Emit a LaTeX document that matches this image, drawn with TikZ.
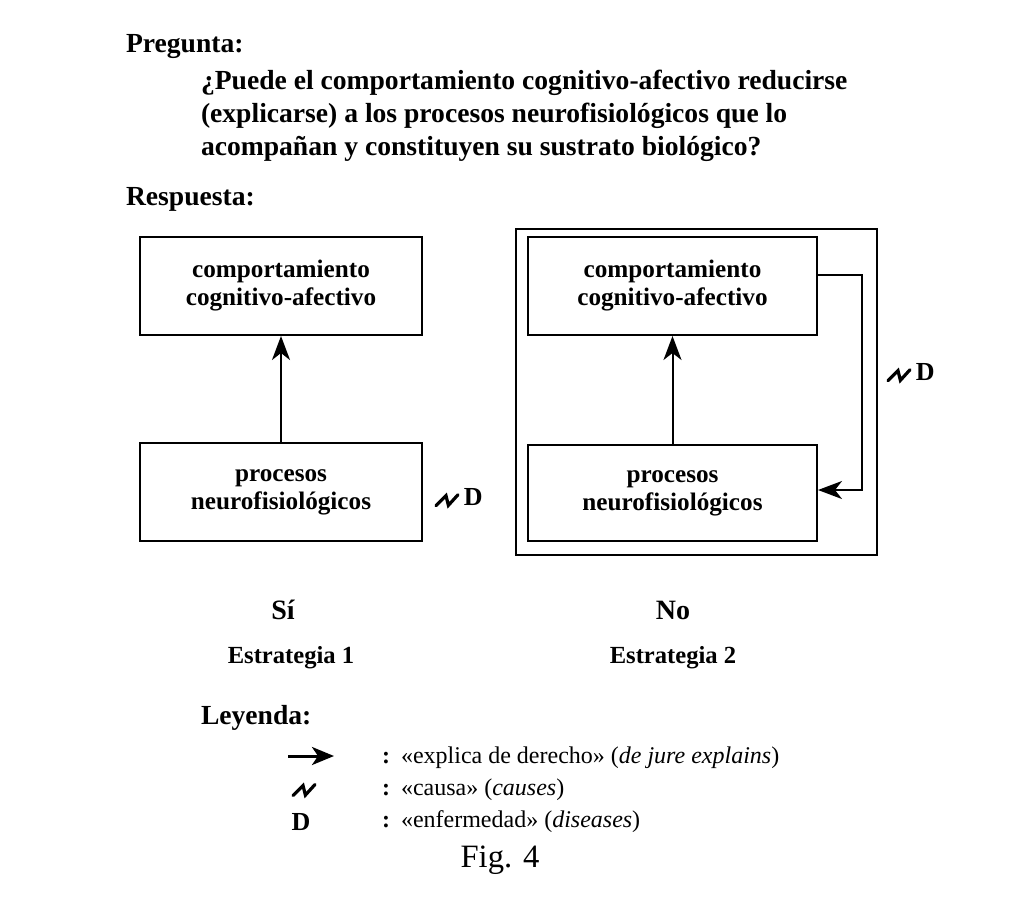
\documentclass[tikz,border=0pt]{standalone}
\usepackage{fontspec}
\setmainfont{Liberation Serif}
\usetikzlibrary{arrows.meta}

\newcommand{\causa}{\tikz[baseline=0pt, line width=1.6pt, line cap=round, line join=miter]\draw (0pt,0pt) -- (5pt,5pt) -- (6.2pt,0.2pt) -- (11pt,5.5pt);}

\tikzset{
  caja/.style={draw, line width=1pt, minimum width=141pt, minimum height=49pt, align=center, inner sep=0pt,
    font=\bfseries\fontsize{12.6}{14}\selectfont},
  titulo/.style={anchor=west, inner sep=0pt, font=\bfseries\fontsize{13.8}{16.5}\selectfont},
  leyenda/.style={anchor=west, font=\fontsize{12}{14}\selectfont, inner sep=0pt},
}

\begin{document}
\begin{tikzpicture}[x=0.5pt, y=-0.5pt, line width=1pt,
  >={Stealth[length=12pt, width=9pt, inset=3.5pt]}]
\useasboundingbox (0,0) rectangle (1024,896);

% pregunta
\node[titulo] (preg) at (125,47) {Pregunta:};
\node[titulo, align=left] (texto) at (200,116) {¿Puede el comportamiento cognitivo-afectivo reducirse\\(explicarse) a los procesos neurofisiológicos que lo\\acompañan y constituyen su sustrato biológico?};
\node[titulo] (resp) at (125,199) {Respuesta:};

% estrategia 1
\node[caja] (comp1) at (281,286) {comportamiento\\cognitivo-afectivo};
\node[caja] (proc1) at (281,492) {procesos\\neurofisiológicos};
\draw[->] (proc1) -- (comp1);
\node[font=\bfseries\fontsize{13}{14}\selectfont, anchor=west, inner sep=0pt] (causa1) at (434,498) {\causa\,D};

% estrategia 2
\node[draw, minimum width=180.5pt, minimum height=163pt] (marco) at (696.5,392) {};
\node[caja, minimum width=144.5pt] (comp2) at (672.5,286) {comportamiento\\cognitivo-afectivo};
\node[caja, minimum width=144.5pt, minimum height=48pt] (proc2) at (672.5,493) {procesos\\neurofisiológicos};
\draw[->] (proc2) -- (comp2);
\draw[->] ([yshift=5.5pt]comp2.east) -- ++(22pt,0) |- ([yshift=1.5pt]proc2.east);
\node[font=\bfseries\fontsize{13}{14}\selectfont, anchor=west, inner sep=0pt] (causa2) at (886,373) {\causa\,D};

% respuestas
\node[font=\bfseries\fontsize{14}{16}\selectfont] (si) at (283,610) {Sí};
\node[font=\bfseries\fontsize{14}{16}\selectfont] (no) at (673,610) {No};
\node[font=\bfseries\fontsize{12.3}{14}\selectfont] (est1) at (291,658) {Estrategia 1};
\node[font=\bfseries\fontsize{12.3}{14}\selectfont] (est2) at (673,658) {Estrategia 2};

% leyenda
\node[titulo] (ley) at (200,718) {Leyenda:};
\coordinate (fa) at (288,756);
\coordinate (fb) at (334,756);
\draw[->, line width=1.5pt, >={Stealth[length=11pt, width=9pt, inset=3pt]}] (fa) -- (fb);
\node[leyenda] (dp1) at (381,758) {\textbf{:}};
\node[leyenda] (l1) at (400,758) {«explica de derecho» (\textit{de jure explains})};
\node[anchor=west, inner sep=0pt] (sim2) at (291,790) {\causa};
\node[leyenda] (dp2) at (381,790) {\textbf{:}};
\node[leyenda] (l2) at (400,790) {«causa» (\textit{causes})};
\node[font=\bfseries\fontsize{13}{14}\selectfont] (sim3) at (301,822) {D};
\node[leyenda] (dp3) at (381,822) {\textbf{:}};
\node[leyenda] (l3) at (400,822) {«enfermedad» (\textit{diseases})};

\node[font=\fontsize{16.3}{19}\selectfont] (fig) at (500,860) {Fig. 4};
\end{tikzpicture}
\end{document}
